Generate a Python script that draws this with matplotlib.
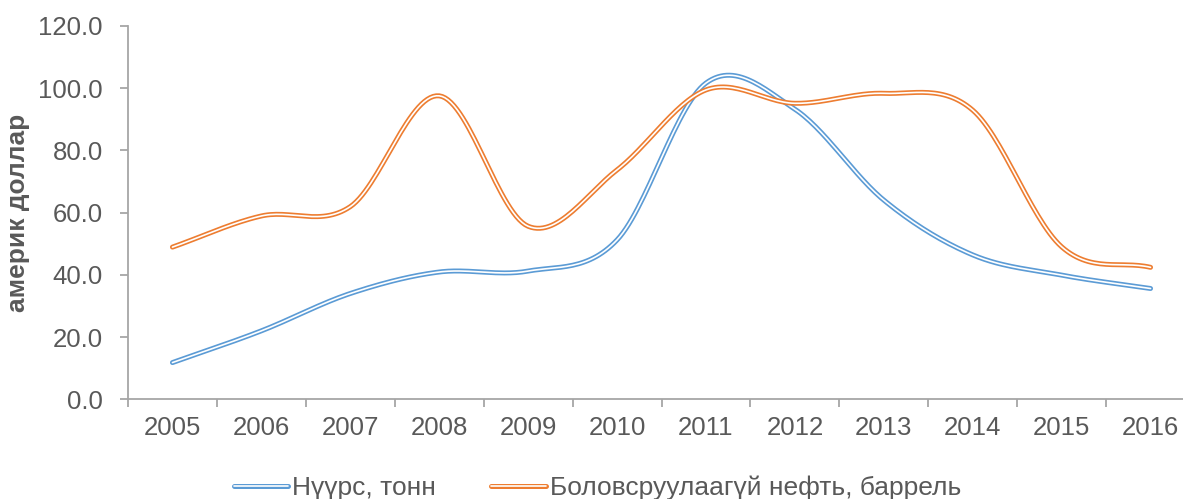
import numpy as np
import matplotlib
matplotlib.use("Agg")
import matplotlib.pyplot as plt
import matplotlib.patheffects as pe

years = ["2005", "2006", "2007", "2008", "2009", "2010",
         "2011", "2012", "2013", "2014", "2015", "2016"]
coal = [11.8, 22.0, 34.0, 40.9, 41.2, 51.2, 101.6, 93.2, 64.0, 46.4, 39.9, 35.6]
oil = [48.9, 58.9, 61.9, 97.5, 55.6, 73.7, 99.4, 95.1, 98.3, 92.9, 49.0, 42.4]

label_coal = "Нүүрс, тонн"
label_oil = "Боловсруулаагүй нефть, баррель"

c_blue = "#5B9BD5"
c_orange = "#ED7D31"
grey_txt = "#595959"
grey_ax = "#A6A6A6"

plt.rcParams['font.family'] = ['Liberation Sans', 'DejaVu Sans']


def smooth(x, y, n=30):
    # catmull-rom style smoothing like excel's "smoothed line"
    x = np.asarray(x, float)
    y = np.asarray(y, float)
    px = np.concatenate([[2 * x[0] - x[1]], x, [2 * x[-1] - x[-2]]])
    py = np.concatenate([[2 * y[0] - y[1]], y, [2 * y[-1] - y[-2]]])
    xs, ys = [], []
    t = np.linspace(0, 1, n, endpoint=False)
    for i in range(1, len(px) - 2):
        for arr, out in ((px, xs), (py, ys)):
            p0, p1, p2, p3 = arr[i - 1], arr[i], arr[i + 1], arr[i + 2]
            out.extend(0.5 * ((2 * p1) + (-p0 + p2) * t
                              + (2 * p0 - 5 * p1 + 4 * p2 - p3) * t ** 2
                              + (-p0 + 3 * p1 - 3 * p2 + p3) * t ** 3))
    xs.append(x[-1])
    ys.append(y[-1])
    return np.array(xs), np.array(ys)


fig = plt.figure(figsize=(11.83, 4.99), dpi=100)
ax = fig.add_axes([128 / 1183, 99.7 / 499, 1067 / 1183, 373.5 / 499])

xpos = np.arange(len(years))
for vals, col, lab in ((coal, c_blue, label_coal), (oil, c_orange, label_oil)):
    sx, sy = smooth(xpos, vals)
    ax.plot(sx, sy, color="white", lw=1.2, solid_capstyle="round", label=lab,
            path_effects=[pe.Stroke(linewidth=3.6, foreground=col, capstyle="round"),
                          pe.Normal()])

ax.set_xlim(-0.5, len(years) - 0.5)
ax.set_ylim(0, 120)
ax.set_yticks(np.arange(0, 121, 20))
ax.set_yticklabels([f"{v:.1f}" for v in np.arange(0, 121, 20)])
ax.set_xticks(np.arange(-0.5, len(years), 1))
ax.set_xticklabels([])
ax.set_xticks(xpos, minor=True)
ax.set_xticklabels(years, minor=True)

for s in ("top", "right"):
    ax.spines[s].set_visible(False)
for s in ("left", "bottom"):
    ax.spines[s].set_color(grey_ax)
    ax.spines[s].set_linewidth(1.3)
ax.tick_params(axis="both", which="major", color=grey_ax, width=1.3, length=6,
               labelcolor=grey_txt, labelsize=18.5)
ax.tick_params(axis="x", which="minor", length=0, labelcolor=grey_txt,
               labelsize=18.5, pad=12)
ax.tick_params(axis="y", pad=12)

ax.set_ylabel("америк доллар", fontsize=19, fontweight="bold", color=grey_txt)
ax.yaxis.set_label_coords(-0.092, 0.5)

fig.legend(loc="lower center", bbox_to_anchor=(0.505, -0.05), ncol=2, frameon=False,
           fontsize=19, labelcolor=grey_txt, handlelength=2.08, handletextpad=0.15,
           columnspacing=2.08)

fig.savefig("out.png", dpi=100)
